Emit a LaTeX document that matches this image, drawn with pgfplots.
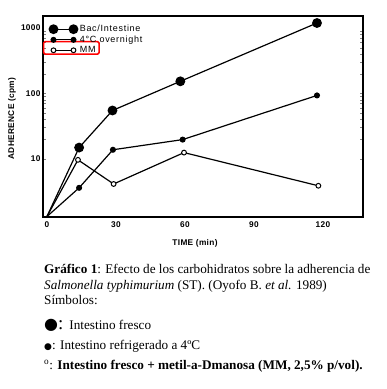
\documentclass[border=0pt]{standalone}
\usepackage{fontspec}
\setmainfont{Liberation Serif}
\newfontfamily\hv[LetterSpace=8]{Liberation Sans}
\newfontfamily\hvb[LetterSpace=4]{Liberation Sans}
\newfontfamily\dv{DejaVu Sans}
\usepackage{pgfplots}
\pgfplotsset{compat=1.18}
\begin{document}
\begin{tikzpicture}
\path[use as bounding box] (0,0) rectangle (387pt,-389pt);
\begin{axis}[
  scale only axis, width=320pt, height=201pt,
  at={(43pt,-217pt)}, anchor=south west,
  xmin=-1.7, xmax=137.4, ymode=log, ymin=1.28, ymax=1530,
  xtick={0,30,60,90,120}, ytick={10,100,1000}, yticklabels={10,100,1000},
  major tick length=0pt, minor tick num=0,
  /pgf/number format/assume math mode=true,
  tick label style={font=\fontsize{8.3}{9}\hvb\bfseries},
  xticklabel style={yshift=-1pt},
  yticklabel style={xshift=1pt},
  axis line style={line width=1.5pt},
  every axis plot/.append style={line width=1.2pt, black},
  xlabel={TIME (min)}, ylabel={ADHERENCE (cpm)},
  every axis x label/.style={at={(axis description cs:0.475,-0.129)}, anchor=center, font=\fontsize{8.3}{9}\hvb\bfseries},
  every axis y label/.style={at={(axis description cs:-0.097,0.49)}, anchor=center, rotate=90, font=\fontsize{8.3}{9}\hvb\bfseries},
  legend image code/.code={\draw[#1, mark indices={1,3}] plot coordinates {(0pt,0pt)(10pt,0pt)(20pt,0pt)};},
  legend style={at={(axis description cs:0.0,1.0)}, anchor=north west, yshift=-4pt, draw=none, fill=none,
    inner xsep=6pt, inner ysep=3pt, row sep=-1.4pt, font=\fontsize{9}{10}\hv\selectfont},
  legend cell align=left,
  clip=false,
]
\addplot[mark=*, mark indices={2,3,4,5}, mark size=4.3pt, mark options={fill=black}] coordinates {
 (0,1.3) (14,14.8) (28.5,54.7) (58,153) (117.4,1195)};
\addlegendentry{Bac/Intestine}
\addplot[mark=*, mark indices={2,3,4,5}, mark size=2.4pt, mark options={fill=black}] coordinates {
 (0,1.3) (14,3.58) (28.7,13.7) (59,19.6) (117.4,93)};
\addlegendentry{4\textdegree C overnight}
\addplot[mark=*, mark indices={2,3,4,5}, mark size=2.4pt, mark options={fill=white, line width=1pt}] coordinates {
 (0,1.3) (13.5,9.6) (29,4.1) (59.6,12.4) (118,3.85)};
\addlegendentry{MM}
\draw[red, line width=1.5pt, rounded corners=1.5pt] (axis description cs:0.002,0.81) rectangle (axis description cs:0.175,0.873);
\end{axis}
\tikzset{captxt/.style={anchor=base west, inner sep=0, font=\fontsize{13.2}{15}\selectfont}}
\node[captxt] at (44pt,-273pt) {\textbf{Gráfico 1}: Efecto de los carbohidratos sobre la adherencia de};
\node[captxt] at (44pt,-289pt) {\textit{Salmonella typhimurium} (ST). (Oyofo B. \textit{et al.} 1989)};
\node[captxt] at (44pt,-304pt) {Símbolos:};
\node[captxt] at (44pt,-329pt) {{\fontsize{16}{16}\dv ●}{\fontsize{19}{19}\selectfont:}\hspace{6pt}Intestino fresco};
\node[captxt] at (44pt,-349pt) {{\fontsize{9}{9}\dv ●}: Intestino refrigerado a 4ºC};
\node[captxt] at (44pt,-369pt) {\textsuperscript{o}: \textbf{Intestino fresco + metil-a-Dmanosa (MM, 2,5\% p/vol).}};
\end{tikzpicture}
\end{document}
